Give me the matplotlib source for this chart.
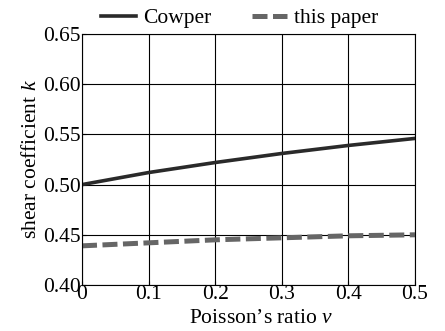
import matplotlib
matplotlib.use("Agg")
import matplotlib.pyplot as plt

plt.rcParams['font.family'] = ['Liberation Serif', 'DejaVu Serif']
plt.rcParams['mathtext.fontset'] = 'custom'
plt.rcParams['mathtext.rm'] = 'Liberation Serif'
plt.rcParams['mathtext.it'] = 'Liberation Serif:italic'

# data
nu = [0.0, 0.1, 0.2, 0.3, 0.4, 0.5]
k_cowper = [0.500, 0.512, 0.522, 0.531, 0.539, 0.546]
k_paper = [0.439, 0.442, 0.445, 0.447, 0.449, 0.450]
xticks = [0, 0.1, 0.2, 0.3, 0.4, 0.5]
xticklabels = ['0', '0.1', '0.2', '0.3', '0.4', '0.5']
yticks = [0.40, 0.45, 0.50, 0.55, 0.60, 0.65]

fs = 15.5

fig = plt.figure(figsize=(4.45, 3.31), dpi=100)
ax = fig.add_axes([82 / 445, 1 - 285 / 331, 333 / 445, 251 / 331])

ax.plot(nu, k_cowper, color='#2a2a2a', lw=2.6, label='Cowper')
ax.plot(nu, k_paper, color='#666666', lw=3.6, dashes=(3.0, 1.1), label='this paper')

ax.set_xlim(0, 0.5)
ax.set_ylim(0.40, 0.65)
ax.set_xticks(xticks)
ax.set_xticklabels(xticklabels)
ax.set_yticks(yticks)
ax.set_yticklabels(['%.2f' % v for v in yticks])
ax.grid(True, color='black', lw=0.8)
ax.tick_params(direction='in', length=3, labelsize=fs, pad=1)
ax.tick_params(axis='x', pad=0)
for s in ax.spines.values():
    s.set_linewidth(0.8)

ax.set_xlabel('Poisson\u2019s ratio $v$', fontsize=fs)
ax.xaxis.set_label_coords(0.538, -0.094)
ax.set_ylabel('shear coefficient $k$', fontsize=fs, labelpad=1)

ax.legend(loc='lower center', bbox_to_anchor=(0.474, 0.98), ncol=2, frameon=False,
          fontsize=fs, handlelength=1.6, columnspacing=1.9, handletextpad=0.35,
          borderpad=0.0)

fig.savefig('out.png', dpi=100)
